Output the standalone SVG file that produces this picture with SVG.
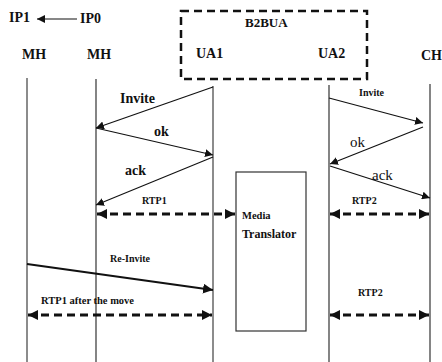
<svg xmlns="http://www.w3.org/2000/svg" width="442" height="362" viewBox="0 0 442 362">
  <style>
    text { font-family: "Liberation Serif", "Times New Roman", serif; font-weight: bold; fill: #111; }
    .lbl { font-size: 14px; }
    .msg { font-size: 14px; }
    .sm { font-size: 10px; }
    .plain { font-weight: normal; font-size: 15px; }
    .life { stroke: #333; stroke-width: 1.2; fill: none; }
    .sig { stroke: #111; stroke-width: 1.2; fill: none; marker-end: url(#tip); }
    .bold-sig { stroke: #111; stroke-width: 2.2; fill: none; marker-end: url(#tipBig); }
    .media { stroke: #111; stroke-width: 3; stroke-dasharray: 8 5; fill: none; marker-start: url(#tipBigRev); marker-end: url(#tipBig); }
  </style>
  <defs>
    <marker id="tip" viewBox="0 0 10 10" refX="10" refY="5" markerWidth="8" markerHeight="8" markerUnits="userSpaceOnUse" orient="auto">
      <path d="M0,0 L10,5 L0,10 z" fill="#111"/>
    </marker>
    <marker id="tipBig" viewBox="0 0 10 10" refX="10" refY="5" markerWidth="10" markerHeight="10" markerUnits="userSpaceOnUse" orient="auto">
      <path d="M0,0 L10,5 L0,10 z" fill="#111"/>
    </marker>
    <marker id="tipBigRev" viewBox="0 0 10 10" refX="0" refY="5" markerWidth="10" markerHeight="10" markerUnits="userSpaceOnUse" orient="auto">
      <path d="M10,0 L0,5 L10,10 z" fill="#111"/>
    </marker>
  </defs>
  <rect width="442" height="362" fill="#fff"/>

  <!-- address change header -->
  <g id="ip-header">
    <text class="lbl" x="9" y="22">IP1</text>
    <line x1="77" y1="19" x2="37" y2="19" stroke="#111" stroke-width="1.2" marker-end="url(#tip)"/>
    <text class="lbl" x="80" y="23">IP0</text>
  </g>

  <!-- B2BUA container -->
  <g id="b2bua">
    <rect x="181" y="11" width="186" height="68" fill="none" stroke="#111" stroke-width="2.5" stroke-dasharray="8 5"/>
    <text class="lbl" x="245" y="27" style="font-size:13px">B2BUA</text>
  </g>

  <!-- participants -->
  <g id="mh-old">
    <text class="lbl" x="22" y="59">MH</text>
    <line class="life" x1="27" y1="78" x2="27" y2="362" style="stroke:#666;stroke-width:1.5"/>
  </g>
  <g id="mh-new">
    <text class="lbl" x="87" y="59">MH</text>
    <line class="life" x1="96" y1="79" x2="96" y2="362"/>
  </g>
  <g id="ua1">
    <text class="lbl" x="196" y="58">UA1</text>
    <line class="life" x1="213" y1="86" x2="213" y2="362" style="stroke:#666;stroke-width:1.5"/>
  </g>
  <g id="ua2">
    <text class="lbl" x="318" y="58">UA2</text>
    <line class="life" x1="329" y1="85" x2="329" y2="362"/>
  </g>
  <g id="ch">
    <text class="lbl" x="421" y="60">CH</text>
    <line class="life" x1="430" y1="84" x2="430" y2="362"/>
  </g>
  <g id="media-translator">
    <rect x="236" y="172" width="70" height="159" fill="#fff" stroke="#333" stroke-width="1.2"/>
    <text class="sm" x="242" y="219" style="font-size:10.5px">Media</text>
    <text x="242" y="238" style="font-size:12px">Translator</text>
  </g>

  <!-- signalling and media flows -->
  <g id="connectors">
    <line class="sig" x1="213" y1="87" x2="96" y2="128"/>
    <line class="sig" x1="96" y1="128" x2="213" y2="155"/>
    <line class="sig" x1="213" y1="157" x2="96" y2="205"/>
    <line class="media" x1="97" y1="214" x2="235" y2="214"/>

    <line class="sig" x1="329" y1="98" x2="423" y2="123"/>
    <line class="sig" x1="423" y1="127" x2="330" y2="164"/>
    <line class="sig" x1="330" y1="166" x2="430" y2="198"/>
    <line class="media" x1="330" y1="214" x2="429" y2="214"/>

    <line class="bold-sig" x1="27" y1="264" x2="213" y2="290"/>
    <line class="media" x1="28" y1="315" x2="212" y2="315"/>
    <line class="media" x1="330" y1="315" x2="429" y2="315"/>
  </g>

  <!-- flow labels -->
  <g id="labels">
    <text class="msg" x="120" y="103">Invite</text>
    <text class="msg" x="154" y="136">ok</text>
    <text class="msg" x="125" y="175">ack</text>
    <text class="sm" x="142" y="204">RTP1</text>
    <text x="359" y="96" style="font-size:10px">Invite</text>
    <text class="plain" x="350" y="147">ok</text>
    <text class="plain" x="372" y="180">ack</text>
    <text class="sm" x="352" y="204">RTP2</text>
    <text class="sm" x="110" y="262">Re-Invite</text>
    <text class="sm" x="41" y="304" style="font-size:10.5px">RTP1 after the move</text>
    <text class="sm" x="358" y="296">RTP2</text>
  </g>
</svg>
